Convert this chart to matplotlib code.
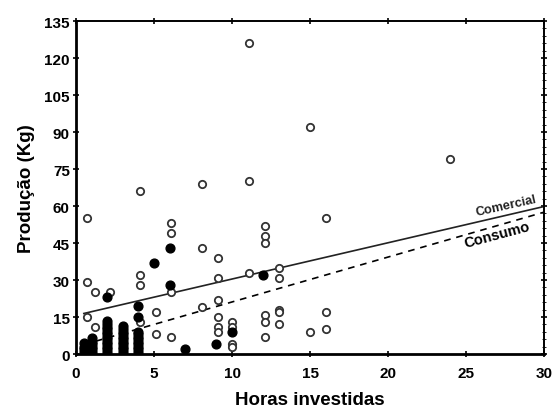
import numpy as np
import matplotlib
matplotlib.use("Agg")
import matplotlib.pyplot as plt
from matplotlib.ticker import MultipleLocator

# dados lidos do grafico
# produtores comerciais (circulos abertos)
comercial_x = [0.7, 0.7, 0.7, 1.2, 1.2, 2.2, 4.1, 4.1, 4.1, 4.1, 5.1, 5.1,
               6.1, 6.1, 6.1, 6.1, 8.1, 8.1, 8.1, 9.1, 9.1, 9.1, 9.1, 9.1, 9.1,
               10, 10, 10, 10, 11.1, 11.1, 11.1, 12.1, 12.1, 12.1, 12.1, 12.1, 12.1,
               13, 13, 13, 13, 13, 15, 15, 16, 16, 16, 24]
comercial_y = [55, 29, 15, 25, 11, 25, 66, 32, 28, 13, 17, 8,
               53, 49, 25, 7, 69, 43, 19, 39, 31, 22, 15, 11, 9,
               13, 11, 4, 3, 126, 70, 33, 52, 48, 45, 16, 13, 7,
               35, 31, 18, 17, 12, 92, 9, 55, 17, 10, 79]

# produtores de consumo (circulos cheios)
consumo_x = [0.5, 0.5, 0.5, 0.5,
             1, 1, 1, 1, 1, 1,
             2, 2, 2, 2, 2, 2, 2, 2, 2, 2, 2, 2, 2, 2,
             3, 3, 3, 3, 3, 3, 3, 3, 3, 3, 3,
             4, 4, 4, 4, 4, 4, 4, 4, 4, 4, 4,
             5, 6, 6, 7, 9, 10, 12]
consumo_y = [1, 2, 3, 4.5,
             1, 2, 3, 4, 5, 6.5,
             1, 2, 3, 4, 5, 6, 7, 8, 9, 10, 11, 12, 13.5, 23,
             1, 2, 3, 4, 5, 6, 7, 8, 9, 10, 11.5,
             1, 2, 3, 4, 5, 6, 7, 8, 9, 15, 19.5,
             37, 28, 43, 2, 4, 9, 32]

# retas de regressao (intercepto, inclinacao)
reta_comercial = (15.7, 1.47)
reta_consumo = (2.9, 1.82)

x_ticks = [0, 5, 10, 15, 20, 25, 30]
y_ticks = [0, 15, 30, 45, 60, 75, 90, 105, 120, 135]

plt.rcParams['font.family'] = ['Liberation Sans', 'DejaVu Sans']
plt.rcParams['font.weight'] = 'bold'

fig = plt.figure(figsize=(5.52, 4.10), dpi=100)
ax = fig.add_axes([0.1377, 0.1341, 0.8478, 0.8122])

ax.scatter(comercial_x, comercial_y, s=28, facecolors='white',
           edgecolors='#333333', linewidths=1.3, zorder=3)
ax.scatter(consumo_x, consumo_y, s=40, color='black', zorder=4)

xs = np.array([0.5, 30])
ax.plot(xs, reta_comercial[0] + reta_comercial[1] * xs, color='#222222',
        lw=1.2, zorder=2)
ax.plot(xs, reta_consumo[0] + reta_consumo[1] * xs, color='black',
        lw=1.2, ls=(0, (4, 3.5)), zorder=2)

ax.text(27.6, 60.2, 'Comercial', fontsize=9.3, rotation=12.5,
        ha='center', va='center', color='#222222')
ax.text(27.0, 48.6, 'Consumo', fontsize=10.5, rotation=15,
        ha='center', va='center', color='black')

ax.set_xlim(0, 30)
ax.set_ylim(0, 135)
ax.set_xticks(x_ticks)
ax.set_yticks(y_ticks)
ax.tick_params(axis='both', which='major', direction='inout', length=5,
               width=1.2, labelsize=11, top=True, right=True, pad=2)
ax.tick_params(axis='x', which='major', pad=6)
ax.yaxis.set_minor_locator(MultipleLocator(3))
ax.tick_params(axis='y', which='minor', direction='inout', length=3,
               width=0.6, left=False, right=True)

for lado in ['left', 'bottom']:
    ax.spines[lado].set_linewidth(2)
for lado in ['top', 'right']:
    ax.spines[lado].set_linewidth(1.4)

ax.set_xlabel('Horas investidas', fontsize=13.5, fontweight='bold', labelpad=8)
ax.set_ylabel('Produção (Kg)', fontsize=13.5, fontweight='bold', labelpad=7)

fig.savefig('out.png', dpi=100)
